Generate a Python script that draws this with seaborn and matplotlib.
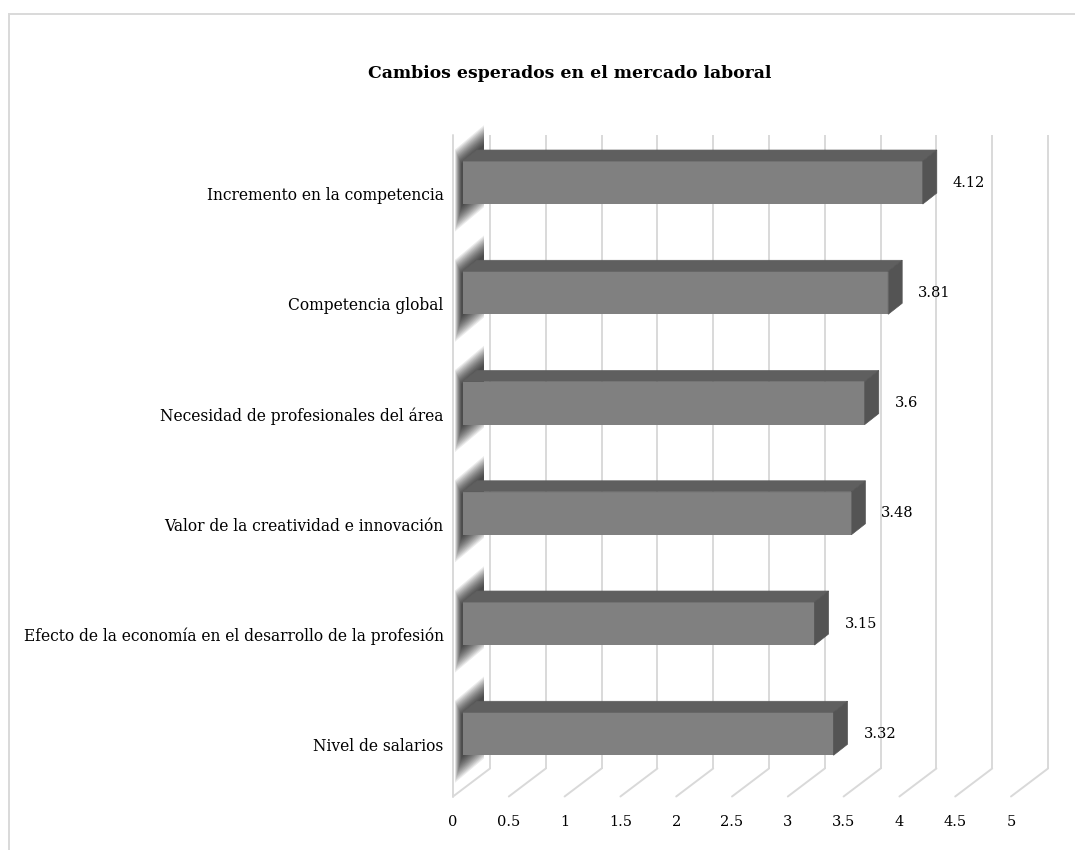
import numpy as np
import pandas as pd
import matplotlib
matplotlib.use('Agg')
import matplotlib.pyplot as plt
from matplotlib.patches import Polygon, Rectangle
from matplotlib.transforms import ScaledTranslation
import seaborn as sns

categories = [
    'Incremento en la competencia',
    'Competencia global',
    'Necesidad de profesionales del área',
    'Valor de la creatividad e innovación',
    'Efecto de la economía en el desarrollo de la profesión',
    'Nivel de salarios',
]
values = [4.12, 3.81, 3.6, 3.48, 3.15, 3.32]
value_labels = ['4.12', '3.81', '3.6', '3.48', '3.15', '3.32']
x_ticks = [0, 0.5, 1, 1.5, 2, 2.5, 3, 3.5, 4, 4.5, 5]
x_tick_labels = ['0', '0.5', '1', '1.5', '2', '2.5', '3', '3.5', '4', '4.5', '5']

df = pd.DataFrame({'categoria': categories, 'valor': values})

sns.set_style('white')
plt.rcParams['font.family'] = ['DejaVu Serif']
plt.rcParams['text.color'] = '#000000'

W, H = 1075, 850
fig = plt.figure(figsize=(W / 100, H / 100), dpi=100)

# axes placed in pixels (bar front plane)
ax_left, ax_right = 463, 463 + 111.6 * 5
ax_top, ax_bot = 127.4, 788.9
ax = fig.add_axes([ax_left / W, 1 - ax_bot / H, (ax_right - ax_left) / W, (ax_bot - ax_top) / H])

sns.barplot(data=df, x='valor', y='categoria', orient='h', color='#808080',
            width=0.39, saturation=1, linewidth=0, ax=ax, zorder=3)
ax.set_xlim(0, 5)
ax.set_ylim(5.5, -0.5)
for s in ax.spines.values():
    s.set_visible(False)

ppx = (ax_right - ax_left) / 5.0
ppy = (ax_bot - ax_top) / 6.0

def px(dx):
    return dx / ppx

def py(dy):
    # image pixels (down positive) to data units
    return dy / ppy

grid_c = '#d9d9d9'
# plane offsets relative to bar front plane (image pixels)
front_dx, front_dy = -10, 7.6
back_dx, back_dy = 27, -20.4
wall_top = -0.5 + py(135 - ax_top + 20.4)
floor_y = 5.5

# back wall verticals and floor diagonals
for t in x_ticks:
    xb = t + px(back_dx)
    xf = t + px(front_dx)
    ax.plot([xb, xb], [wall_top + py(back_dy), floor_y + py(back_dy)],
            color=grid_c, lw=1.4, zorder=1, clip_on=False, solid_capstyle='butt')
    ax.plot([xf, xb], [floor_y + py(front_dy), floor_y + py(back_dy)],
            color=grid_c, lw=1.4, zorder=1, clip_on=False)
# left wall front edge
xf0 = 0 + px(front_dx)
ax.plot([xf0, xf0], [wall_top + py(back_dy), floor_y + py(front_dy)],
        color=grid_c, lw=1.4, zorder=1, clip_on=False)

# left wall shadows: stacked translucent parallelograms give a soft edge
def shadow_poly(yc, half, xl, xr=21):
    # centre line slants with depth
    cl = yc + py(-15.5 - (xl - 20) * 0.84)
    cr = yc + py(-15.5 - (xr - 20) * 0.84)
    hh = py(half)
    return [(px(xl), cl - hh), (px(xr), cr - hh), (px(xr), cr + hh), (px(xl), cl + hh)]

for i, v in enumerate(values):
    for k in range(14):
        half = 41 - k * 1.5
        xl = -8 + k * 0.5
        ax.add_patch(Polygon(shadow_poly(i, half, xl), closed=True, facecolor='#000000',
                             edgecolor='none', alpha=0.08, zorder=2, clip_on=False))

# 3D faces for each bar
ddx, ddy = px(14), -py(11)
for i, p in enumerate(ax.patches[:len(values)]):
    x0 = p.get_x()
    w = p.get_width()
    y0 = p.get_y()
    h = p.get_height()
    x1, y1 = x0 + w, y0 + h
    top = Polygon([(x0, y0), (x1, y0), (x1 + ddx, y0 + ddy), (x0 + ddx, y0 + ddy)],
                  closed=True, facecolor='#5f5f5f', edgecolor='#5f5f5f', lw=0.5,
                  zorder=3.5, clip_on=False)
    side = Polygon([(x1, y0), (x1 + ddx, y0 + ddy), (x1 + ddx, y1 + ddy), (x1, y1)],
                   closed=True, facecolor='#545454', edgecolor='#545454', lw=0.5,
                   zorder=3.5, clip_on=False)
    ax.add_patch(top)
    ax.add_patch(side)
    p.set_clip_on(False)
    ax.text(x1 + px(30), y0 + h / 2, value_labels[i], ha='left', va='center',
            fontsize=10.5, color='#000000', zorder=4)

# ticks
ax.set_xticks(x_ticks)
ax.set_xticklabels(x_tick_labels)
ax.tick_params(axis='x', length=0, pad=19, labelsize=10.5, labelcolor='#000000')
ax.tick_params(axis='y', length=0, pad=14, labelsize=11.2, labelcolor='#000000')
ax.set_xlabel('')
ax.set_ylabel('')
for lab in ax.get_xticklabels():
    lab.set_transform(lab.get_transform() + ScaledTranslation(-0.10, 0, fig.dpi_scale_trans))
for lab in ax.get_yticklabels():
    lab.set_transform(lab.get_transform() + ScaledTranslation(0, -0.11, fig.dpi_scale_trans))

fig.text(570 / W, 1 - 73 / H, 'Cambios esperados en el mercado laboral',
         ha='center', va='center', fontsize=12.4, fontweight='bold', color='#000000')

# chart border
fig.patches.append(Rectangle((9 / W, -0.1), 1.2, 1.1 - 14 / H, transform=fig.transFigure,
                             fill=False, edgecolor='#d9d9d9', lw=1.4))

fig.savefig('out.png', dpi=100)
